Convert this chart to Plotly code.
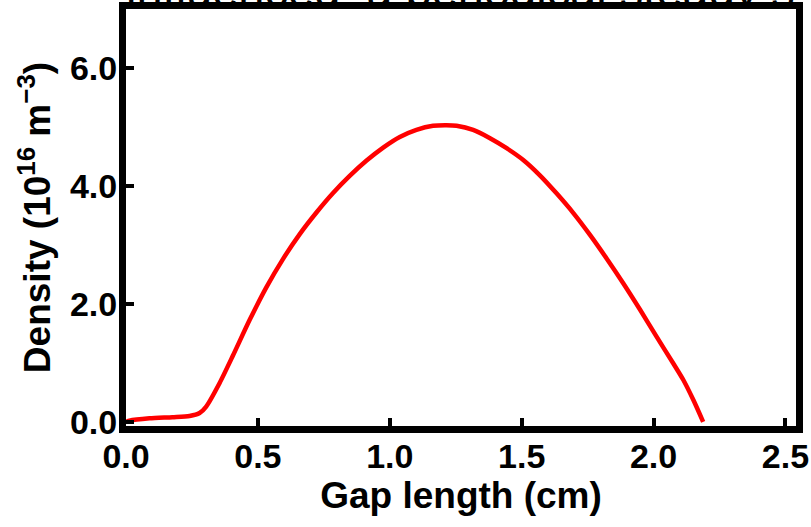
import plotly.graph_objects as go

# Data
gap_cm = [0.0, 0.013, 0.089, 0.176, 0.241, 0.279, 0.304, 0.355, 0.405, 0.469, 0.532,
          0.595, 0.658, 0.722, 0.785, 0.848, 0.912, 0.975, 1.038, 1.101, 1.164,
          1.215, 1.253, 1.316, 1.380, 1.443, 1.506, 1.569, 1.633, 1.696, 1.759,
          1.822, 1.885, 1.949, 2.012, 2.075, 2.113, 2.151, 2.188]
density = [0.0, 0.02, 0.06, 0.08, 0.10, 0.15, 0.26, 0.66, 1.12, 1.73, 2.28,
           2.76, 3.18, 3.55, 3.88, 4.17, 4.43, 4.65, 4.83, 4.95, 5.02,
           5.03, 5.02, 4.95, 4.81, 4.64, 4.44, 4.18, 3.87, 3.54, 3.17,
           2.77, 2.35, 1.90, 1.44, 0.99, 0.71, 0.37, 0.0]
x_ticks = [0.0, 0.5, 1.0, 1.5, 2.0, 2.5]
y_ticks = [0.0, 2.0, 4.0, 6.0]
background_text = "influenced, a periodical steady st"

W, H = 811, 527
L, R, T, B = 126, 15, 0, 101
ph = H - T - B

fig = go.Figure()
fig.add_trace(go.Scatter(
    x=gap_cm, y=density, mode="lines",
    line=dict(color="#ff0000", width=4.5, shape="spline", smoothing=0.7),
    showlegend=False, hoverinfo="skip"))

# cropped text of the surrounding page, visible only at the very top
fig.add_trace(go.Scatter(
    x=[0.0], y=[12.75], mode="text", text=[background_text],
    textposition="middle right",
    textfont=dict(family="Liberation Sans, Arial", size=47, color="black"),
    xaxis="x2", yaxis="y2", cliponaxis=True, showlegend=False, hoverinfo="skip"))

axis_font = dict(family="Liberation Sans, Arial", size=34, color="black")
title_font = dict(family="Liberation Sans, Arial", size=37, color="black")

fig.update_layout(
    width=W, height=H,
    margin=dict(l=L, r=R, t=T, b=B, pad=0),
    paper_bgcolor="white", plot_bgcolor="white",
    font=dict(family="Liberation Sans, Arial", color="black"),
    xaxis=dict(
        range=[0, 2.54], tickvals=x_ticks, ticktext=[f"<b>{v:.1f}</b>" for v in x_ticks],
        ticks="inside", ticklen=8, tickwidth=4, tickcolor="black",
        showline=True, linewidth=7, linecolor="black", mirror=True,
        showgrid=False, zeroline=False, tickfont=axis_font, ticklabelstandoff=-6,
        title=dict(text="<b>Gap length (cm)</b>", font=title_font, standoff=4),
    ),
    yaxis=dict(
        range=[-0.07, 7.0], domain=[0, 1 - 9 / ph],
        tickvals=y_ticks, ticktext=[f"<b>{v:.1f}</b>" for v in y_ticks],
        ticks="inside", ticklen=8, tickwidth=4, tickcolor="black",
        showline=True, linewidth=7, linecolor="black", mirror=True,
        showgrid=False, zeroline=False, tickfont=axis_font, ticklabelstandoff=-5,
        title=dict(text="<b>Density (10<sup>16</sup> m<sup>−3</sup>)</b>", font=title_font, standoff=10),
    ),
    xaxis2=dict(domain=[0, 1], range=[0, 1], anchor="y2", visible=False, fixedrange=True),
    yaxis2=dict(domain=[1 - 8 / ph, 1], range=[0, 8], anchor="x2", visible=False, fixedrange=True),
)

fig.write_html("out.html")
